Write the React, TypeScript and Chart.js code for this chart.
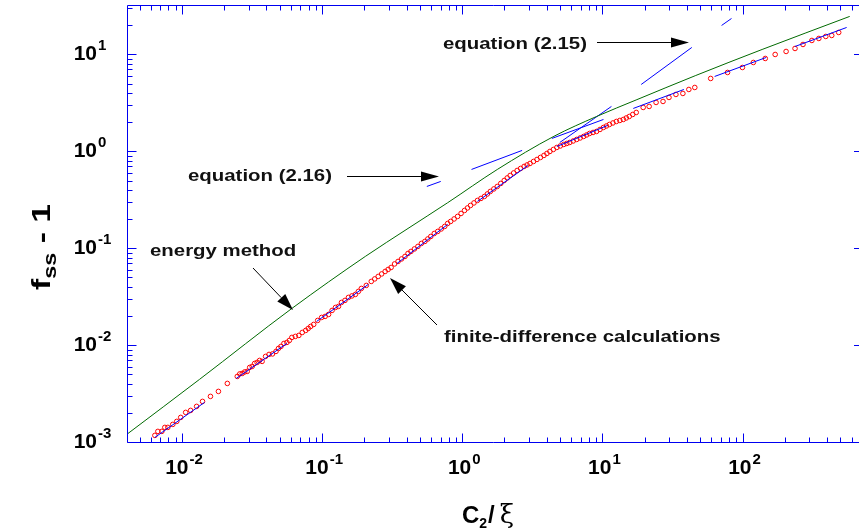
import React, { useEffect, useRef } from "react";
import { Chart, registerables } from "chart.js";
Chart.register(...registerables);

// ---- axis ranges / ticks ----
const X_MIN = 0.00405;
const X_MAX = 678;
const Y_MIN = 0.001;
const Y_MAX = 32.4;
const xTickExps = [-2, -1, 0, 1, 2];
const yTickExps = [-3, -2, -1, 0, 1];

// ---- energy method (green curve) ----
const energyX = [0.00404, 0.01334, 0.0608, 0.2033, 0.41, 0.787, 1.778, 4.51, 9.08, 17.4, 46.4, 138, 582];
const energyY = [0.0012, 0.00443, 0.0239, 0.0823, 0.16, 0.295, 0.65, 1.43, 2.29, 3.39, 6.07, 11.26, 24.7];

// ---- finite-difference calculations (red circles) ----
const fdX = [
  0.006404, 0.006727, 0.00718, 0.007542, 0.007921, 0.008594, 0.009173, 0.00979, 0.01062, 0.01152,
  0.01271, 0.01401, 0.01596, 0.01819, 0.02106, 0.0248, 0.02691, 0.02919, 0.03168, 0.03436,
  0.03728, 0.04179, 0.04685, 0.05082, 0.05605, 0.06081, 0.06818, 0.07638, 0.08288, 0.08705,
  0.09918, 0.1112, 0.1246, 0.1374, 0.1541, 0.1727, 0.1905, 0.2242, 0.2513, 0.2817,
  0.3106, 0.3481, 0.3903, 0.4304, 0.4826, 0.5408, 0.5963, 0.6683, 0.7493, 0.8263,
  0.9263, 1.038, 1.145, 1.283, 1.439, 1.586, 1.778, 1.993, 2.198, 2.465,
  2.762, 3.045, 3.414, 3.827, 4.221, 4.731, 5.302, 5.848, 6.555, 7.347,
  8.1, 9.082, 10.18, 11.23, 12.59, 14.11, 15.56, 17.44, 19.55, 21.56,
  24.16, 27.08, 29.87, 33.48, 37.53, 41.4, 45.64, 59.26, 78.19, 99.84,
  119.5, 145.3, 171.0, 204.6, 237.0, 270.1, 312.6, 350.4, 392.8, 433.2, 485.7,
  0.02584, 0.02803, 0.03041, 0.03299, 0.03579, 0.03947, 0.04424, 0.0488, 0.05338, 0.05838,
  0.0644, 0.07217, 0.07962, 0.09292, 0.105, 0.1177, 0.1308, 0.1455, 0.1631, 0.1814,
  0.2066, 0.2373, 0.266, 0.2958, 0.3289, 0.3686, 0.41, 0.4557, 0.5108, 0.5678,
  0.6314, 0.7077, 0.7868, 0.8748, 0.9806, 1.09, 1.212, 1.359, 1.511, 1.68,
  1.883, 2.093, 2.327, 2.609, 2.901, 3.225, 3.615, 4.019, 4.468, 5.009,
  5.569, 6.191, 6.94, 7.716, 8.58, 9.616, 10.69, 11.89, 13.32, 14.82, 16.47,
];
const fdY = [
  0.00117, 0.001287, 0.001287, 0.001415, 0.001415, 0.00152, 0.001632, 0.001794, 0.002021, 0.002119,
  0.002331, 0.002624, 0.002956, 0.003328, 0.004024, 0.004753, 0.005103, 0.005352, 0.006029, 0.00663,
  0.00679, 0.008017, 0.00861, 0.009696, 0.01066, 0.01201, 0.01259, 0.01418, 0.0156, 0.01635,
  0.01931, 0.02074, 0.02449, 0.02758, 0.03107, 0.03336, 0.03847, 0.04544, 0.05117, 0.05763,
  0.06334, 0.07307, 0.08229, 0.09268, 0.1044, 0.1175, 0.1323, 0.1491, 0.1679, 0.1891,
  0.213, 0.2455, 0.2765, 0.3114, 0.3424, 0.3857, 0.4343, 0.5007, 0.564, 0.6352,
  0.6986, 0.7501, 0.8249, 0.9073, 0.9977, 1.097, 1.178, 1.235, 1.327, 1.425,
  1.53, 1.605, 1.765, 1.895, 2.035, 2.134, 2.292, 2.52, 2.838, 2.907,
  3.196, 3.273, 3.6, 3.866, 3.959, 4.352, 4.564, 5.653, 6.521, 7.34,
  8.269, 9.093, 10.0, 10.74, 11.53, 12.68, 13.95, 14.63, 15.34, 15.71, 16.87,
  0.005043, 0.005288, 0.005886, 0.006473, 0.006952, 0.007645, 0.008111, 0.009245, 0.01041, 0.01118,
  0.0123, 0.01352, 0.01487, 0.01798, 0.01978, 0.0228, 0.02508, 0.02893, 0.03219, 0.03583,
  0.04131, 0.04823, 0.05429, 0.06042, 0.06886, 0.07752, 0.08837, 0.09835, 0.1121, 0.1247,
  0.1421, 0.1582, 0.1803, 0.2006, 0.2286, 0.2606, 0.2935, 0.3265, 0.3634, 0.4093,
  0.4664, 0.5316, 0.5985, 0.6662, 0.7238, 0.7866, 0.8652, 0.9513, 1.046, 1.137,
  1.206, 1.28, 1.375, 1.476, 1.567, 1.683, 1.828, 1.964, 2.084, 2.212, 2.403,
];

// ---- blue dashed fit through the data (dash start / end) ----
const fitStartX = [0.006404, 0.0244, 0.09143, 0.3425, 1.283, 4.731, 16.61, 63.24, 237.0];
const fitStartY = [0.001115, 0.004532, 0.01757, 0.06967, 0.3041, 1.123, 2.771, 5.929, 12.09];
const fitEndX = [0.01448, 0.05605, 0.2135, 0.7868, 2.949, 10.87, 38.14, 147.6, 553.3];
const fitEndY = [0.002562, 0.01041, 0.0423, 0.1761, 0.7154, 1.85, 4.352, 9.312, 18.99];

// ---- equation (2.16) dashes ----
const eq216StartX = [0.5587, 1.164, 4.36];
const eq216StartY = [0.4343, 0.6505, 1.359];
const eq216EndX = [0.7022, 2.674, 10.18];
const eq216EndY = [0.4891, 1.022, 2.134];

// ---- equation (2.15) dashes ----
const eq215StartX = [4.968, 18.92, 70.9];
const eq215StartY = [1.235, 4.901, 19.92];
const eq215EndX = [11.6, 43.46, 83.45];
const eq215EndY = [2.907, 11.81, 23.52];

const AXIS_COLOR = "#0000f0";
const FONT = "'Liberation Sans', Arial, Helvetica, sans-serif";

function dashes(sx: number[], sy: number[], ex: number[], ey: number[]) {
  const out: { x: number; y: number | null }[] = [];
  for (let i = 0; i < sx.length; i++) {
    out.push({ x: sx[i], y: sy[i] });
    out.push({ x: ex[i], y: ey[i] });
    out.push({ x: ex[i], y: null });
  }
  return out;
}

function arrow(ctx: CanvasRenderingContext2D, x1: number, y1: number, x2: number, y2: number, hl = 17, hw = 10) {
  const ang = Math.atan2(y2 - y1, x2 - x1);
  const bx = x2 - hl * Math.cos(ang);
  const by = y2 - hl * Math.sin(ang);
  ctx.beginPath();
  ctx.moveTo(x1, y1);
  ctx.lineTo(bx, by);
  ctx.stroke();
  const nx = -Math.sin(ang) * (hw / 2);
  const ny = Math.cos(ang) * (hw / 2);
  ctx.beginPath();
  ctx.moveTo(x2, y2);
  ctx.lineTo(bx + nx, by + ny);
  ctx.lineTo(bx - nx, by - ny);
  ctx.closePath();
  ctx.fill();
}

function stretchedText(ctx: CanvasRenderingContext2D, text: string, x: number, y: number, sx: number) {
  ctx.save();
  ctx.translate(x, y);
  ctx.scale(sx, 1);
  ctx.fillText(text, 0, 0);
  ctx.restore();
}

const framePlugin = {
  id: "frame",
  afterDatasetsDraw(chart: any) {
    const { ctx, chartArea: a, scales } = chart;
    const xs = scales.x;
    const ys = scales.y;
    ctx.save();
    ctx.strokeStyle = AXIS_COLOR;
    ctx.lineWidth = 1;
    const L = Math.round(a.left) + 0.5;
    const R = a.right;
    const T = Math.round(a.top) + 0.5;
    const B = Math.floor(a.bottom) + 0.5;
    ctx.beginPath();
    ctx.moveTo(L, T);
    ctx.lineTo(R, T);
    ctx.moveTo(L, T);
    ctx.lineTo(L, B);
    ctx.lineTo(R, B);
    ctx.stroke();

    ctx.beginPath();
    for (let d = -3; d <= 3; d++) {
      for (let m = 1; m <= 9; m++) {
        const v = m * Math.pow(10, d);
        if (v < X_MIN || v > X_MAX) continue;
        const px = Math.round(xs.getPixelForValue(v)) + 0.5;
        const len = m === 1 ? 9 : 5;
        ctx.moveTo(px, B);
        ctx.lineTo(px, B - len);
        ctx.moveTo(px, T);
        ctx.lineTo(px, T + len);
      }
    }
    for (let d = -3; d <= 2; d++) {
      for (let m = 1; m <= 9; m++) {
        const v = m * Math.pow(10, d);
        if (v < Y_MIN || v > Y_MAX) continue;
        const py = Math.round(ys.getPixelForValue(v)) + 0.5;
        const len = m === 1 ? 9 : 5;
        ctx.moveTo(L, py);
        ctx.lineTo(L + len, py);
        if (m === 1) {
          ctx.moveTo(R, py);
          ctx.lineTo(R - 5, py);
        }
      }
    }
    ctx.stroke();

    ctx.fillStyle = "#000";
    ctx.textBaseline = "alphabetic";
    const big = `bold 21px ${FONT}`;
    const small = `bold 15px ${FONT}`;
    ctx.textAlign = "left";
    for (const e of xTickExps) {
      const px = xs.getPixelForValue(Math.pow(10, e));
      ctx.font = big;
      const w1 = ctx.measureText("10").width;
      ctx.font = small;
      const es = e < 0 ? "-" + Math.abs(e) : String(e);
      const w2 = ctx.measureText(es).width;
      const start = px + 2 - (w1 + 1 + w2) / 2;
      ctx.font = big;
      ctx.fillText("10", start, 474);
      ctx.font = small;
      ctx.fillText(es, start + w1 + 1, 464);
    }
    for (const e of yTickExps) {
      const py = ys.getPixelForValue(Math.pow(10, e));
      ctx.font = big;
      const w1 = ctx.measureText("10").width;
      const es = e < 0 ? "-" + Math.abs(e) : String(e);
      ctx.fillText("10", 97 - w1, py + 6);
      ctx.font = small;
      ctx.fillText(es, 98, py - 4);
    }

    // x title
    ctx.font = `bold 24px ${FONT}`;
    let cx = 462;
    ctx.fillText("C", cx, 523);
    cx += ctx.measureText("C").width;
    ctx.font = `bold 14px ${FONT}`;
    ctx.fillText("2", cx, 528);
    cx += ctx.measureText("2").width + 1;
    ctx.font = `bold 24px ${FONT}`;
    ctx.fillText("/", cx, 523);
    cx += ctx.measureText("/").width + 5;
    ctx.font = `26px 'DejaVu Serif', 'Liberation Serif', serif`;
    ctx.fillText("ξ", cx, 523);

    // y title
    ctx.save();
    ctx.translate(50, 290);
    ctx.rotate(-Math.PI / 2);
    ctx.scale(1.3, 1);
    ctx.font = `bold 26px ${FONT}`;
    let ty = 0;
    ctx.fillText("f", ty, 0);
    ty += ctx.measureText("f").width;
    ctx.font = `bold 18px ${FONT}`;
    ctx.fillText("ss", ty, 6);
    ty += ctx.measureText("ss").width;
    ctx.font = `bold 26px ${FONT}`;
    ctx.fillText(" - 1", ty, 0);
    ctx.restore();

    // annotations
    ctx.font = `bold 17px ${FONT}`;
    ctx.fillStyle = "#111";
    stretchedText(ctx, "equation (2.15)", 443, 48.5, 1.2);
    stretchedText(ctx, "equation (2.16)", 188, 180.5, 1.2);
    stretchedText(ctx, "energy method", 150, 255.5, 1.2);
    stretchedText(ctx, "finite-difference calculations", 444, 342, 1.2);
    ctx.strokeStyle = "#000";
    ctx.fillStyle = "#000";
    ctx.lineWidth = 1;
    arrow(ctx, 597, 42.5, 689, 42.5, 18, 10);
    arrow(ctx, 347, 176.5, 439, 176.5, 18, 10);
    arrow(ctx, 253, 268, 293, 310, 17, 11);
    arrow(ctx, 437, 325, 390, 278, 17, 11);
    ctx.restore();
  },
};

export default function App() {
  const ref = useRef<HTMLCanvasElement | null>(null);
  useEffect(() => {
    document.body.style.margin = "0";
    const canvas = ref.current;
    if (!canvas) return;
    const energy = energyX.map((x, i) => ({ x, y: energyY[i] }));
    const fd = fdX.map((x, i) => ({ x, y: fdY[i] }));
    const chart = new Chart(canvas, {
      type: "scatter",
      data: {
        datasets: [
          {
            label: "finite-difference calculations",
            data: fd,
            showLine: false,
            pointRadius: 2.3,
            pointBorderWidth: 1,
            borderColor: "#ff0000",
            backgroundColor: "rgba(255,255,255,0)",
            order: 3,
          },
          {
            label: "fit",
            data: dashes(fitStartX, fitStartY, fitEndX, fitEndY),
            showLine: true,
            spanGaps: false,
            pointRadius: 0,
            borderWidth: 1,
            borderColor: "#0000ff",
            order: 2,
          },
          {
            label: "equation (2.16)",
            data: dashes(eq216StartX, eq216StartY, eq216EndX, eq216EndY),
            showLine: true,
            spanGaps: false,
            pointRadius: 0,
            borderWidth: 1,
            borderColor: "#0000ff",
            order: 2,
          },
          {
            label: "equation (2.15)",
            data: dashes(eq215StartX, eq215StartY, eq215EndX, eq215EndY),
            showLine: true,
            spanGaps: false,
            pointRadius: 0,
            borderWidth: 1,
            borderColor: "#0000ff",
            order: 2,
          },
          {
            label: "energy method",
            data: energy,
            showLine: true,
            pointRadius: 0,
            borderWidth: 1,
            borderColor: "#006a00",
            cubicInterpolationMode: "monotone",
            order: 1,
          },
        ],
      },
      options: {
        animation: false,
        responsive: false,
        devicePixelRatio: 1,
        layout: { padding: { left: 127, right: 0, top: 5, bottom: 89 } },
        plugins: { legend: { display: false }, tooltip: { enabled: false } },
        scales: {
          x: { type: "logarithmic", min: X_MIN, max: X_MAX, display: false },
          y: { type: "logarithmic", min: Y_MIN, max: Y_MAX, display: false },
        },
      },
      plugins: [framePlugin],
    });
    return () => chart.destroy();
  }, []);
  return (
    <div style={{ width: 864, height: 531, background: "#fff" }}>
      <canvas ref={ref} width={864} height={531} style={{ display: "block" }} />
    </div>
  );
}
